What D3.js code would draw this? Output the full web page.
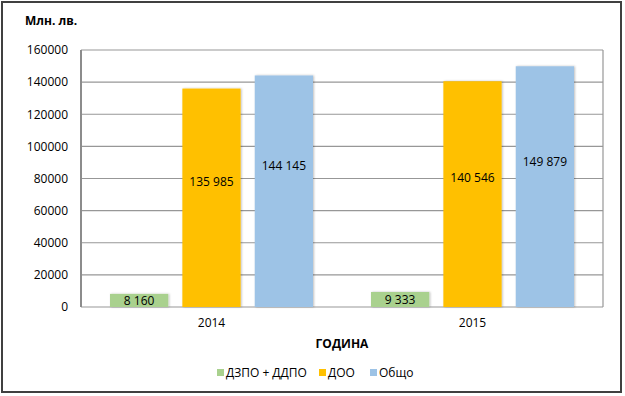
<!DOCTYPE html>
<html lang="bg">
<head>
    <meta charset="UTF-8">
    <title>Chart</title>
    <script src="https://cdn.jsdelivr.net/npm/d3@7"></script>
</head>
<style>
    body{
        margin:0;
        background:#fff;
    }
    text{
        font-family:"Open Sans", "Liberation Sans", sans-serif;
        fill:#000;
    }
</style>
<body>
<div id="chart"></div>
<script>
    // data
    var years = ["2014", "2015"];
    var seriesNames = ["ДЗПО + ДДПО", "ДОО", "Общо"];
    var dzpo = [8160, 9333];
    var doo = [135985, 140546];
    var total = [144145, 149879];
    var yTicks = [0, 20000, 40000, 60000, 80000, 100000, 120000, 140000, 160000];
    var colors = ["#a9d18e", "#ffc000", "#9dc3e6"];

    var W = 625, H = 396;
    var pLeft = 81, pTop = 50, pRight = 603, pBottom = 307;

    var svg = d3.select("#chart").append("svg")
        .attr("width", W)
        .attr("height", H);

    // outer frame
    svg.append("rect")
        .attr("x", 2).attr("y", 2)
        .attr("width", 619).attr("height", 390)
        .style("fill", "#fff")
        .style("stroke", "#404040")
        .style("stroke-width", 2);

    var x0 = d3.scaleBand().domain(years).range([pLeft, pRight]).paddingInner(0).paddingOuter(0);
    var x1 = d3.scaleBand().domain(seriesNames).range([29, x0.bandwidth() - 29]).paddingInner(0.195);
    var y = d3.scaleLinear().domain([0, 160000]).range([pBottom, pTop]);

    // grid
    svg.append("g")
        .selectAll("line")
        .data(yTicks)
        .enter().append("line")
        .attr("x1", pLeft).attr("x2", pRight)
        .attr("y1", function(d){ return y(d); })
        .attr("y2", function(d){ return y(d); })
        .style("stroke", "#979797")
        .style("stroke-width", 1.2);

    // plot frame sides
    svg.append("line")
        .attr("x1", pLeft).attr("x2", pLeft).attr("y1", pTop).attr("y2", pBottom)
        .style("stroke", "#8c8c8c").style("stroke-width", 2);
    svg.append("line")
        .attr("x1", pRight).attr("x2", pRight).attr("y1", pTop).attr("y2", pBottom)
        .style("stroke", "#979797").style("stroke-width", 1.2);

    // y axis labels
    var yAxis = d3.axisLeft(y).tickValues(yTicks).tickSize(0).tickPadding(13)
        .tickFormat(d3.format("d"));
    var ya = svg.append("g").attr("transform", "translate(" + pLeft + ",0)").call(yAxis);
    ya.select(".domain").remove();
    ya.selectAll("text").style("font-size", "12px").attr("fill", "#000")
        .style("font-family", "\"Open Sans\", sans-serif");

    // x axis labels
    var xAxis = d3.axisBottom(x0).tickSize(0).tickPadding(11);
    var xa = svg.append("g").attr("transform", "translate(0," + pBottom + ")").call(xAxis);
    xa.select(".domain").remove();
    xa.selectAll("text").style("font-size", "12px").attr("fill", "#000")
        .style("font-family", "\"Open Sans\", sans-serif");

    var table = years.map(function(yr, i){
        return {year: yr, vals: [dzpo[i], doo[i], total[i]]};
    });

    var defs = svg.append("defs");
    var f = defs.append("filter").attr("id", "sh").attr("x", "-20%").attr("y", "-20%").attr("width", "140%").attr("height", "140%");
    f.append("feDropShadow").attr("dx", 1).attr("dy", 0).attr("stdDeviation", 1)
        .attr("flood-color", "#000").attr("flood-opacity", 0.25);

    var groups = svg.append("g").selectAll("g")
        .data(table)
        .enter().append("g")
        .attr("transform", function(d){ return "translate(" + x0(d.year) + ",0)"; });

    groups.selectAll("rect")
        .data(function(d){ return d.vals.map(function(v, j){ return {name: seriesNames[j], v: v, j: j}; }); })
        .enter().append("rect")
        .attr("x", function(d){ return x1(d.name); })
        .attr("width", x1.bandwidth())
        .attr("y", function(d){ return y(d.v); })
        .attr("height", function(d){ return y(0) - y(d.v); })
        .attr("filter", "url(#sh)")
        .style("fill", function(d){ return colors[d.j]; });

    // value labels
    var shift = [0, -16, -25];
    var fmt = function(v){ return d3.format(",")(v).replace(/,/g, " "); };
    groups.selectAll("text.val")
        .data(function(d){ return d.vals.map(function(v, j){ return {name: seriesNames[j], v: v, j: j}; }); })
        .enter().append("text")
        .attr("class", "val")
        .attr("x", function(d){ return x1(d.name) + x1.bandwidth() / 2; })
        .attr("y", function(d){ return (y(d.v) + y(0)) / 2 + shift[d.j]; })
        .attr("text-anchor", "middle")
        .attr("dy", "0.35em")
        .style("font-size", "12px")
        .text(function(d){ return fmt(d.v); });

    // titles
    svg.append("text")
        .attr("x", 25).attr("y", 25)
        .style("font-size", "12px").style("font-weight", "bold")
        .text("Млн. лв.");
    svg.append("text")
        .attr("x", (pLeft + pRight) / 2).attr("y", 348)
        .attr("text-anchor", "middle")
        .style("font-size", "12px").style("font-weight", "bold")
        .text("ГОДИНА");

    // legend
    var legendX = [217, 319, 370];
    var lg = svg.append("g").selectAll("g")
        .data(seriesNames)
        .enter().append("g")
        .attr("transform", function(d, i){ return "translate(" + legendX[i] + ",369)"; });
    lg.append("rect")
        .attr("width", 7).attr("height", 7)
        .style("fill", function(d, i){ return colors[i]; });
    lg.append("text")
        .attr("x", 9).attr("y", 4)
        .attr("dy", "0.35em")
        .style("font-size", "12px")
        .text(function(d){ return d; });
</script>
</body>
</html>
